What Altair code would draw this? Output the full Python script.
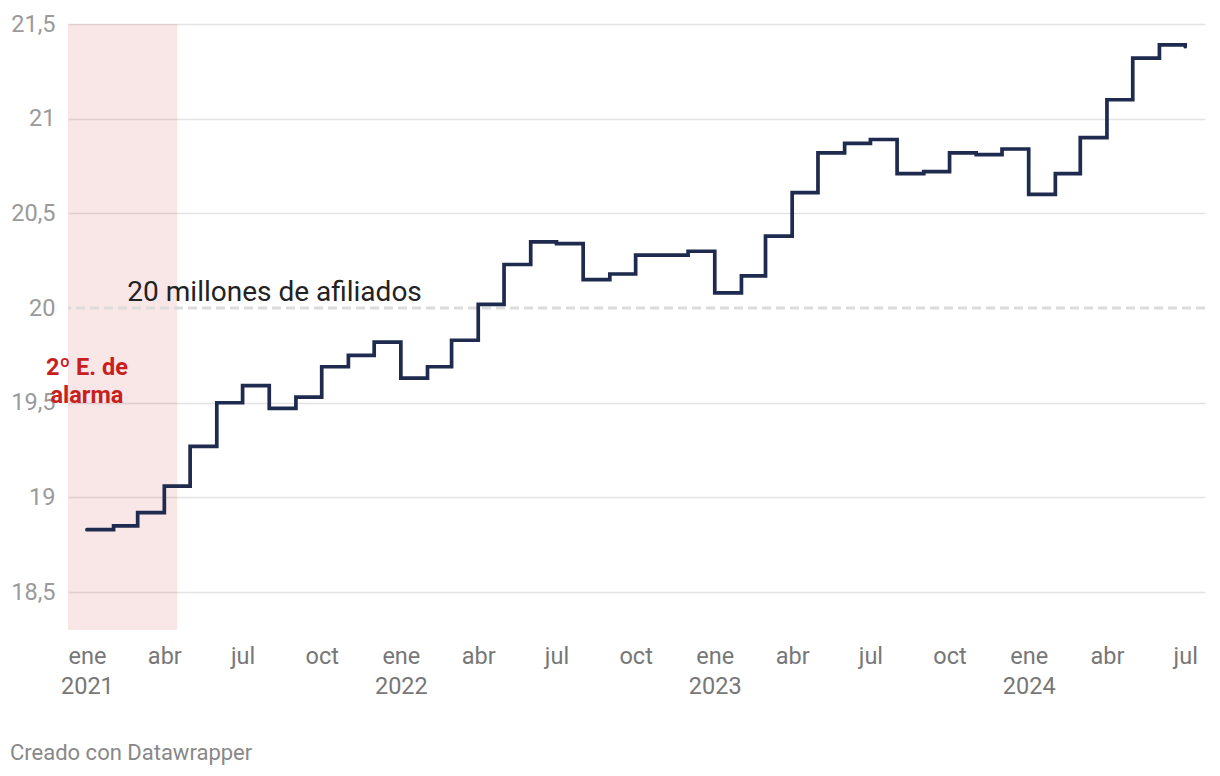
import altair as alt
import pandas as pd

months = pd.date_range("2021-01-01", "2024-07-01", freq="MS").strftime("%Y-%m-%dT00:00:00").tolist()
afiliados = [
    18.83, 18.85, 18.92, 19.06, 19.27, 19.50, 19.59, 19.47, 19.53, 19.69, 19.75, 19.82,
    19.63, 19.69, 19.83, 20.02, 20.23, 20.35, 20.34, 20.15, 20.18, 20.28, 20.28, 20.30,
    20.08, 20.17, 20.38, 20.61, 20.82, 20.87, 20.89, 20.71, 20.72, 20.82, 20.81, 20.84,
    20.60, 20.71, 20.90, 21.10, 21.32, 21.39, 21.38,
]
y_ticks = [18.5, 19, 19.5, 20, 20.5, 21, 21.5]
x_ticks = [(y, m) for y in [2021, 2022, 2023, 2024] for m in [1, 4, 7, 10] if not (y == 2024 and m == 10)]
alarma_start = "2020-12-10T00:00:00"
alarma_end = "2021-04-16T00:00:00"
umbral = 20
umbral_label = "20 millones de afiliados"
alarma_label = ["2º E. de", "alarma"]

df = pd.DataFrame({"mes": months, "valor": afiliados})
shade_df = pd.DataFrame({"start": [alarma_start], "end": [alarma_end], "y0": [18.3], "y1": [21.5]})
rule_df = pd.DataFrame({"v": [umbral]})
ann_df = pd.DataFrame({"mes": ["2021-02-17T00:00:00"], "v": [20.08], "t": [umbral_label]})
alarm_df = pd.DataFrame({"mes": ["2021-01-01T00:00:00"], "v": [19.683], "t": [alarma_label]})

FONT = "Roboto"
W, H = 1137, 606

xscale = alt.Scale(domain=[alt.DateTime(year=2020, month=12, date=10),
                           alt.DateTime(year=2024, month=7, date=24)])
yscale = alt.Scale(domain=[18.3, 21.5], nice=False, zero=False)

month_expr = "['ene','feb','mar','abr','may','jun','jul','ago','sep','oct','nov','dic'][month(datum.value)]"
x_axis = alt.Axis(
    values=[alt.DateTime(year=y, month=m, date=1) for y, m in x_ticks],
    labelExpr=f"month(datum.value) == 0 ? [{month_expr}, timeFormat(datum.value, '%Y')] : {month_expr}",
    grid=False, domain=False, ticks=False,
    labelFontSize=23.5, labelColor="#777777", labelFont=FONT, labelPadding=14,
    labelLineHeight=30, labelFlush=False, labelOverlap=False, title=None,
)
y_axis = alt.Axis(
    values=y_ticks,
    labelExpr="replace(format(datum.value, '.1~f'), '.', ',')",
    grid=True,
    gridColor={"condition": {"test": "datum.value === 20", "value": "transparent"}, "value": "#e3e3e3"},
    gridWidth=1.6, domain=False, ticks=False,
    labelFontSize=23.5, labelColor="#9a9a9a", labelFont=FONT, labelPadding=13,
    labelBaseline="middle", title=None,
)

shade = alt.Chart(shade_df).mark_rect(color="#c71e1d", opacity=0.11).encode(
    x=alt.X("start:T", scale=xscale, axis=x_axis),
    x2="end:T",
    y=alt.Y("y0:Q", scale=yscale, axis=y_axis),
    y2="y1:Q",
)

rule = alt.Chart(rule_df).mark_rule(color="#dcdcdc", strokeWidth=3, strokeDash=[9, 5]).encode(
    y=alt.Y("v:Q", scale=yscale)
)

line = alt.Chart(df).mark_line(
    interpolate="step-after", color="#1e2a4e", strokeWidth=3.7, strokeCap="round"
).encode(
    x=alt.X("mes:T", scale=xscale),
    y=alt.Y("valor:Q", scale=yscale),
)

ann = alt.Chart(ann_df).mark_text(
    align="left", baseline="middle", fontSize=28, font=FONT, color="#222222"
).encode(x=alt.X("mes:T", scale=xscale), y=alt.Y("v:Q", scale=yscale), text="t")

alarm = alt.Chart(alarm_df).mark_text(
    align="center", baseline="middle", fontSize=23.5, font=FONT, fontWeight="bold",
    color="#c8201f", lineHeight=28
).encode(x=alt.X("mes:T", scale=xscale), y=alt.Y("v:Q", scale=yscale), text="t")

credit = alt.Chart(pd.DataFrame({"t": ["Creado con Datawrapper"]})).mark_text(
    align="left", baseline="middle", fontSize=22, font=FONT, color="#888888"
).encode(x=alt.value(-58), y=alt.value(729), text="t")

chart = alt.layer(shade, rule, line, ann, alarm, credit).properties(
    width=W, height=H,
    autosize=alt.AutoSizeParams(type="none"),
    padding={"left": 60, "top": 16, "right": 7, "bottom": 146},
).configure_view(stroke=None)

chart.save("out.html", embed_options={"renderer": "svg", "actions": False})
